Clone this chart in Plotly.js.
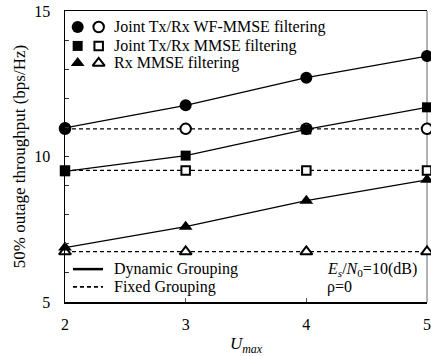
<!DOCTYPE html>
<html>
<head>
<meta charset="utf-8">
<script src="https://cdn.plot.ly/plotly-3.0.1.min.js"></script>
<style>html,body{margin:0;padding:0;background:#fff;}#chart{width:431px;height:356px;}</style>
</head>
<body>
<div id="chart"></div>
<script>
// ---- data ----
const uMax = [2, 3, 4, 5];
const wfDynamic = [10.98, 11.76, 12.71, 13.45];
const wfFixed = [10.95, 10.95, 10.95, 10.95];
const mmseDynamic = [9.49, 10.03, 10.93, 11.69];
const mmseFixed = [9.52, 9.52, 9.52, 9.52];
const rxDynamic = [6.87, 7.59, 8.48, 9.20];
const rxFixed = [6.73, 6.73, 6.73, 6.73];
const yTickVals = [5, 6, 7, 8, 9, 10, 11, 12, 13, 14, 15];
const yTickText = ['5', ' ', ' ', ' ', ' ', '10', ' ', ' ', ' ', ' ', '15'];
const xTickVals = [2, 3, 4, 5];
const legendRows = ['Joint Tx/Rx WF-MMSE filtering', 'Joint Tx/Rx MMSE filtering', 'Rx MMSE filtering'];
const groupRows = ['Dynamic Grouping', 'Fixed Grouping'];

const serif = 'Liberation Serif';

function markerStyle(sym, filled) {
  const size = sym === 'circle' ? 12 : (sym === 'square' ? 10 : 12);
  return {symbol: sym, size: filled ? size : size - 1.5, color: filled ? '#000' : '#fff',
          line: {color: '#000', width: filled ? 0 : 2}};
}

function tr(y, sym, filled) {
  return {
    x: uMax, y: y, type: 'scatter', mode: 'lines+markers', cliponaxis: false,
    line: {color: '#000', width: 1.3, dash: filled ? 'solid' : '4px,3px'},
    marker: markerStyle(sym, filled),
    showlegend: false, hoverinfo: 'skip'
  };
}

const traces = [
  tr(wfFixed, 'circle', false),
  tr(mmseFixed, 'square', false),
  tr(rxFixed, 'triangle-up', false),
  tr(wfDynamic, 'circle', true),
  tr(mmseDynamic, 'square', true),
  tr(rxDynamic, 'triangle-up', true)
];

// legend markers on an overlay axis in [0,1] plot-area units
const legY = [0.945, 0.88, 0.821];
const legSyms = ['circle', 'square', 'triangle-up'];
legSyms.forEach((s, i) => {
  [true, false].forEach((filled, j) => {
    traces.push({
      x: [j === 0 ? 0.035 : 0.093], y: [legY[i]], xaxis: 'x2', yaxis: 'y2',
      type: 'scatter', mode: 'markers', cliponaxis: false, showlegend: false, hoverinfo: 'skip',
      marker: markerStyle(s, filled)
    });
  });
});
const grpY = [0.113, 0.052];
[true, false].forEach((solid, i) => {
  traces.push({
    x: [0.022, 0.105], y: [grpY[i], grpY[i]], xaxis: 'x2', yaxis: 'y2',
    type: 'scatter', mode: 'lines', showlegend: false, hoverinfo: 'skip',
    line: {color: '#000', width: solid ? 2.5 : 1.8, dash: solid ? 'solid' : '4px,3px'}
  });
});

const annotations = [];
legendRows.forEach((t, i) => annotations.push({
  xref: 'x2', yref: 'y2', x: 0.13, y: legY[i], text: t, showarrow: false,
  xanchor: 'left', yanchor: 'middle', font: {family: serif, size: 16, color: '#000'}
}));
groupRows.forEach((t, i) => annotations.push({
  xref: 'x2', yref: 'y2', x: 0.13, y: grpY[i], text: t, showarrow: false,
  xanchor: 'left', yanchor: 'middle', font: {family: serif, size: 16, color: '#000'}
}));
annotations.push({
  xref: 'x2', yref: 'y2', x: 0.718, y: grpY[0], showarrow: false, xanchor: 'left', yanchor: 'middle',
  text: '<i>E<sub>s</sub></i>/<i>N</i><sub>0</sub>=10(dB)', font: {family: serif, size: 16, color: '#000'}
});
annotations.push({
  xref: 'x2', yref: 'y2', x: 0.718, y: grpY[1], showarrow: false, xanchor: 'left', yanchor: 'middle',
  text: 'ρ=0', font: {family: serif, size: 16, color: '#000'}
});

const layout = {
  width: 431, height: 356,
  margin: {l: 65, r: 4, t: 11, b: 54},
  paper_bgcolor: '#fff', plot_bgcolor: '#fff',
  showlegend: false,
  font: {family: serif, size: 15, color: '#000'},
  xaxis: {
    range: [2, 5], tickvals: xTickVals, ticks: 'inside', ticklen: 4, tickcolor: '#555',
    showgrid: false, zeroline: false, showline: true, linecolor: '#000', linewidth: 1.5, mirror: true,
    tickfont: {family: serif, size: 16}, ticklabelstandoff: 7,
    title: {text: '<i>U<sub>max</sub></i>', font: {family: serif, size: 17}, standoff: 6}
  },
  yaxis: {
    range: [5, 15], tickvals: yTickVals, ticktext: yTickText, ticks: 'inside', ticklen: 4, tickcolor: '#333',
    showgrid: false, zeroline: false, showline: true, linecolor: '#000', linewidth: 1.5,
    tickfont: {family: serif, size: 16}, ticklabelstandoff: 10,
    title: {text: '50% outage throughput (bps/Hz)', font: {family: serif, size: 17}, standoff: 4}
  },
  xaxis2: {overlaying: 'x', range: [0, 1], visible: false, fixedrange: true},
  yaxis2: {overlaying: 'y', range: [0, 1], visible: false, fixedrange: true},
  shapes: [
    {type: 'line', xref: 'paper', yref: 'paper', x0: 1, x1: 1, y0: 0, y1: 1, line: {color: '#999', width: 1.5}, layer: 'below'}
  ],
  annotations: annotations
};

Plotly.newPlot('chart', traces, layout, {displayModeBar: false, staticPlot: true});
</script>
</body>
</html>
